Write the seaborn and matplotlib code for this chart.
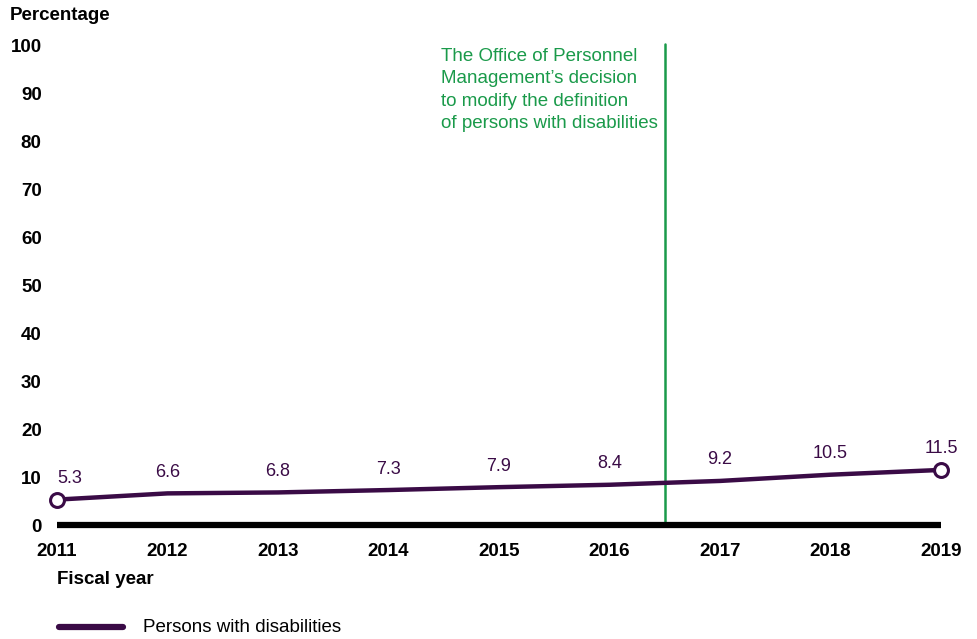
import matplotlib
matplotlib.use("Agg")
import matplotlib.pyplot as plt
import seaborn as sns
import pandas as pd

years = [2011, 2012, 2013, 2014, 2015, 2016, 2017, 2018, 2019]
pwd_pct = [5.3, 6.6, 6.8, 7.3, 7.9, 8.4, 9.2, 10.5, 11.5]
y_ticks = [0, 10, 20, 30, 40, 50, 60, 70, 80, 90, 100]
series_name = "Persons with disabilities"
note_text = ("The Office of Personnel\nManagement\u2019s decision\n"
             "to modify the definition\nof persons with disabilities")

sns.set_theme(style="white")
plt.rcParams["font.family"] = ["Liberation Sans", "DejaVu Sans"]

LINE = "#3a0b46"
GREEN = "#1a9a4a"
FS = 13.5

df = pd.DataFrame({"year": years, "pct": pwd_pct})

fig = plt.figure(figsize=(9.78, 6.39), dpi=100)
ax = fig.add_axes([57 / 978, 114 / 639, (941 - 57) / 978, (525 - 46) / 639])

# baseline at zero
ax.plot([years[0], years[-1]], [0, 0], color="black", lw=4.5,
        solid_capstyle="butt", zorder=2, clip_on=False)

sns.lineplot(data=df, x="year", y="pct", ax=ax, color=LINE, lw=3.2,
             zorder=3, legend=False)
ax.lines[-1].set_clip_on(False)

# open circles at the two ends
ax.plot([years[0], years[-1]], [pwd_pct[0], pwd_pct[-1]], ls="none",
        marker="o", ms=10, mfc="white", mec=LINE, mew=2.2, zorder=4,
        clip_on=False)

for i, (x, v) in enumerate(zip(years, pwd_pct)):
    ax.annotate(f"{v}", (x, v), xytext=(0, 9), textcoords="offset points",
                ha="left" if i == 0 else "center", va="bottom",
                fontsize=13, color=LINE)

# policy change marker
ax.plot([2016.5, 2016.5], [0, 100.5], color=GREEN, lw=1.8, zorder=1,
        clip_on=False)
fig.text(441 / 978, 1 - 48 / 639, note_text, color=GREEN, fontsize=FS,
         ha="left", va="top", linespacing=1.42)

ax.set_xlim(years[0], years[-1])
ax.set_ylim(0, 100)
ax.set_xticks(years)
ax.set_xticklabels([str(y) for y in years], fontweight="bold", fontsize=FS)
ax.set_yticks(y_ticks)
ax.set_yticklabels([str(t) for t in y_ticks], fontweight="bold", fontsize=FS)
ax.tick_params(axis="x", length=0, pad=13, colors="black")
ax.tick_params(axis="y", length=0, pad=11, colors="black")
for s in ax.spines.values():
    s.set_visible(False)
ax.set_xlabel("")
ax.set_ylabel("")

fig.text(10 / 978, 1 - 15 / 639, "Percentage", fontweight="bold",
         fontsize=FS, ha="left", va="center", color="black")
fig.text(57 / 978, 1 - 580 / 639, "Fiscal year", fontweight="bold",
         fontsize=FS, ha="left", va="center", color="black")

# legend
fig.add_artist(plt.Line2D([59 / 978, 123 / 978], [1 - 627 / 639] * 2,
                          color=LINE, lw=4.5, solid_capstyle="round"))
fig.text(143 / 978, 1 - 627 / 639, series_name, fontsize=FS,
         ha="left", va="center", color="black")

fig.savefig("out.png", dpi=100, facecolor="white")
